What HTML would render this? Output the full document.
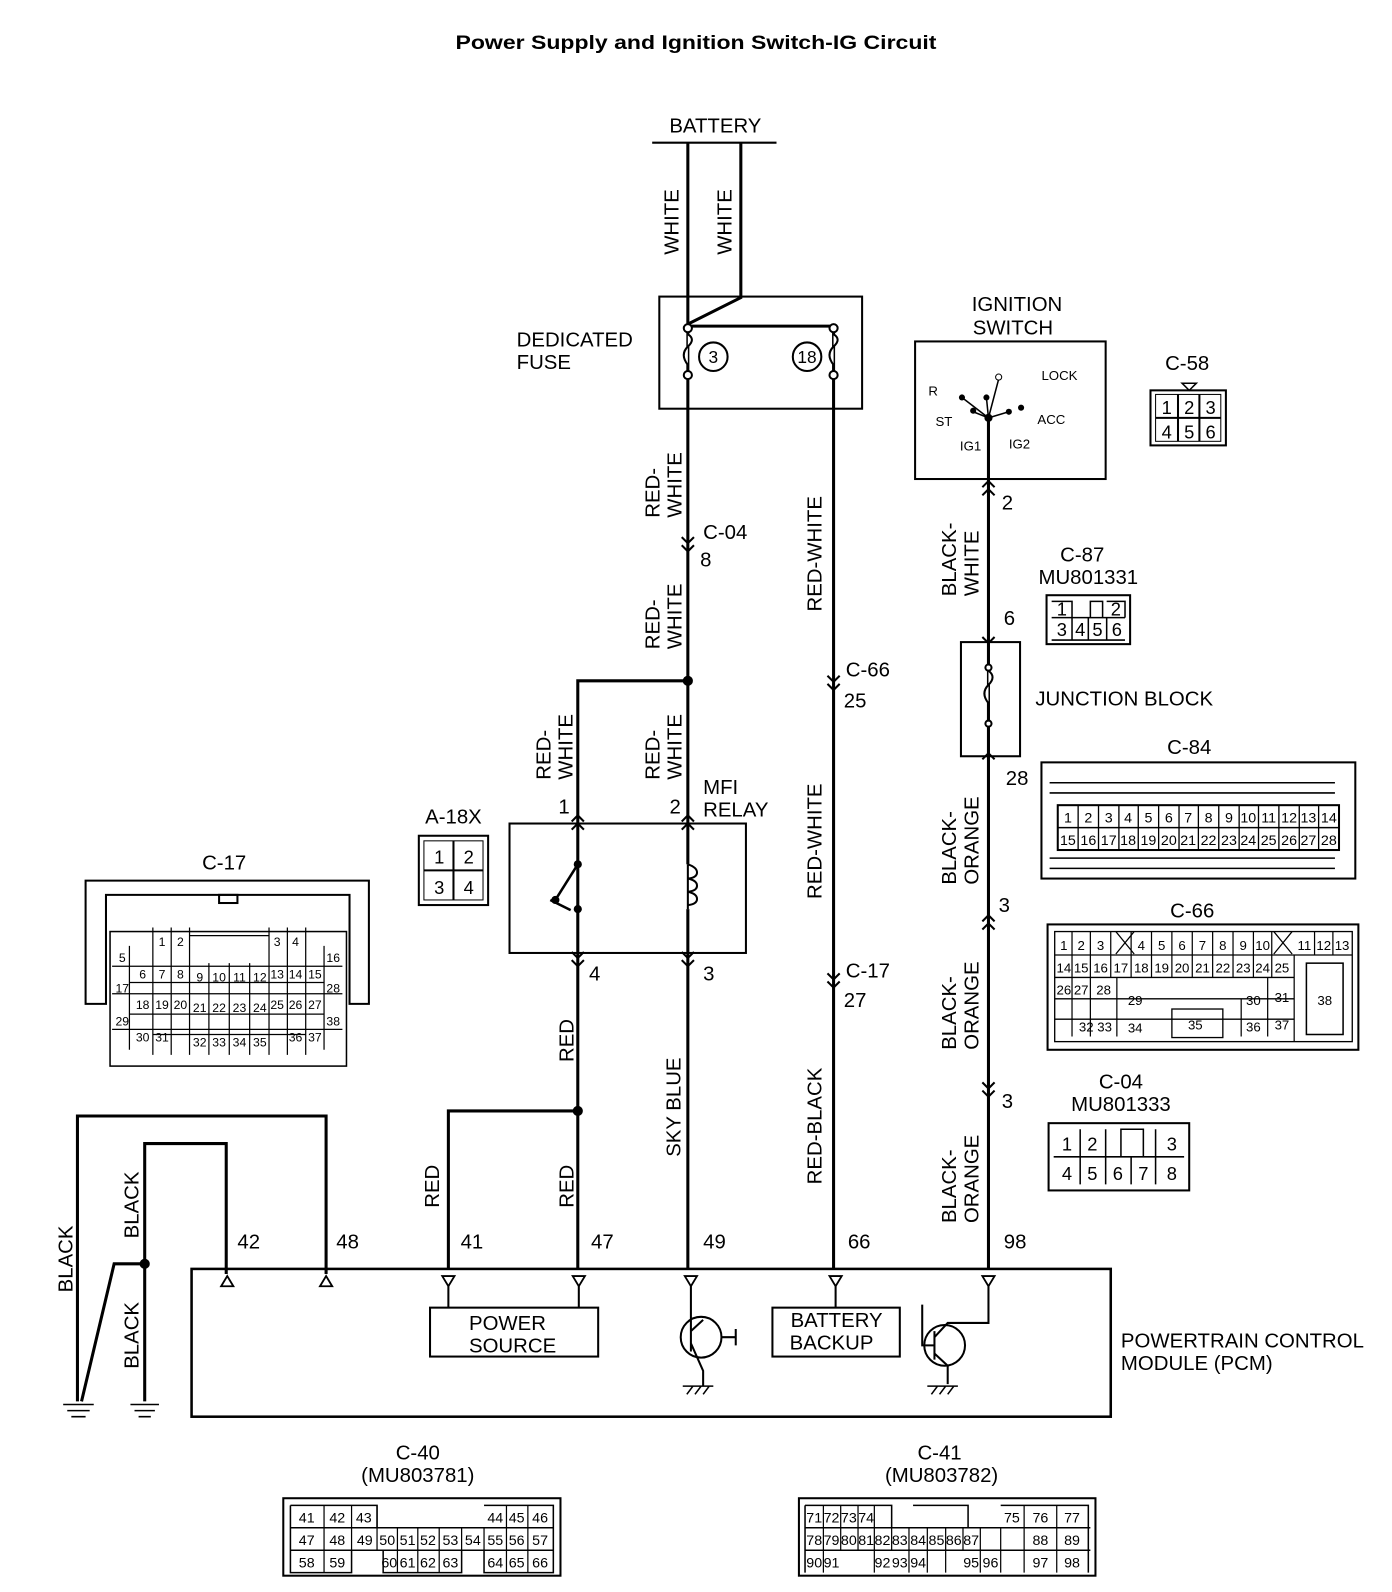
<!DOCTYPE html>
<html><head><meta charset="utf-8"><style>
html,body{margin:0;padding:0;background:#fff}
svg{display:block}
text{font-family:"Liberation Sans",sans-serif;fill:#000}
</style></head><body>
<svg width="1392" height="1592" viewBox="0 0 1366 1562" preserveAspectRatio="none" xmlns="http://www.w3.org/2000/svg">
<rect width="1366" height="1562" fill="#fff"/>
<text x="447" y="48" font-size="19" font-weight="bold" textLength="472" lengthAdjust="spacingAndGlyphs">Power Supply and Ignition Switch-IG Circuit</text>

<g stroke="#000" fill="none" stroke-width="3">
<line x1="640" y1="140" x2="762" y2="140" stroke-width="2"/>
<line x1="675" y1="140" x2="675" y2="1245"/>
<path d="M727 140 V292 L675 318"/>
<line x1="675" y1="320" x2="818" y2="320"/>
<line x1="818" y1="320" x2="818" y2="1245"/>
<rect x="647" y="291" width="199" height="110" stroke-width="2"/>
<path d="M675 668 H567 V1245"/>
<path d="M567 1090 H440 V1245"/>
<rect x="500" y="808" width="232" height="127" stroke-width="2"/>
<rect x="898" y="335" width="187" height="135" stroke-width="2"/>
<line x1="970" y1="410" x2="970" y2="1245"/>
<rect x="943" y="630" width="58" height="112" stroke-width="2"/>
<rect x="188" y="1245" width="902" height="145" stroke-width="2.5"/>
<path d="M76 1375 V1095 H320 V1250"/>
<path d="M142 1375 V1122 H222 V1250"/>
<path d="M142 1240 H112 L80 1375"/>
<rect x="422" y="1283" width="165" height="48" stroke-width="2"/>
<rect x="758" y="1283" width="125" height="48" stroke-width="2"/>
<line x1="440" y1="1262" x2="440" y2="1283" stroke-width="2"/>
<line x1="568" y1="1262" x2="568" y2="1283" stroke-width="2"/>
<line x1="820" y1="1262" x2="820" y2="1283" stroke-width="2"/>
<circle cx="688" cy="1312" r="20" stroke-width="2"/>
<path d="M678 1298 V1326 M678 1306 L678 1262 M678 1318 L690 1345 V1360 M708 1312 H722 M722 1304 V1320 M678 1306 L690 1295" stroke-width="2"/>
<circle cx="927" cy="1320" r="20" stroke-width="2"/>
<path d="M917 1306 V1334 M917 1312 L930 1298 H970 V1262 M917 1328 L930 1340 V1358 M917 1320 H905 V1280" stroke-width="2"/>
</g>
<g stroke="#000" stroke-width="1.5">
<path d="M670 1360 H700 M674 1368 L680 1360 M682 1368 L688 1360 M690 1368 L696 1360"/>
<path d="M910 1360 H940 M914 1368 L920 1360 M922 1368 L928 1360 M930 1368 L936 1360"/>
<path d="M62 1378 H92 M66 1384 H88 M70 1390 H84 M128 1378 H156 M132 1384 H152 M136 1390 H148"/>
</g>
<g fill="#000">
<circle cx="675" cy="668" r="5"/><circle cx="567" cy="1090" r="5"/><circle cx="142" cy="1240" r="5"/>
<circle cx="970" cy="410" r="4"/>
</g>
<g stroke="#000" fill="#fff" stroke-width="2">
<circle cx="675" cy="322" r="4"/><circle cx="818" cy="322" r="4"/>
<circle cx="675" cy="368" r="4"/><circle cx="818" cy="368" r="4"/>
<circle cx="700" cy="350" r="14"/><circle cx="792" cy="350" r="14"/>
<path d="M675 328 q8 5 0 12 q-8 8 0 18" fill="#fff"/>
<path d="M818 328 q8 5 0 12 q-8 8 0 18" fill="#fff"/>
<path d="M970 658 q8 6 0 14 q-8 8 0 18" fill="#fff"/>
<circle cx="970" cy="655" r="3"/><circle cx="970" cy="710" r="3"/>
</g>
<text x="700" y="356" font-size="17" text-anchor="middle">3</text>
<text x="792" y="356" font-size="17" text-anchor="middle">18</text>
<g stroke="#000" stroke-width="2.5" fill="none">
<line x1="567" y1="848" x2="545" y2="883"/>
<line x1="540" y1="883" x2="560" y2="893"/>
</g>
<rect x="672" y="848" width="12" height="44" fill="#fff"/>
<g stroke="#000" stroke-width="2" fill="none">
<path d="M675 848 q9 3 9 8 q0 5 -9 6 q9 2 9 7 q0 5 -9 6 q9 2 9 7 q0 5 -9 6 M675 848 V892"/>
</g>
<g fill="#000"><circle cx="567" cy="848" r="4"/><circle cx="545" cy="883" r="4"/><circle cx="567" cy="892" r="4"/></g>
<g stroke="#000" stroke-width="1.5">
<line x1="970" y1="410" x2="944" y2="390"/><line x1="970" y1="410" x2="955" y2="404"/>
<line x1="970" y1="410" x2="980" y2="372"/><line x1="970" y1="410" x2="990" y2="404"/>
<line x1="970" y1="410" x2="968" y2="390"/>
</g>
<g fill="#000"><circle cx="944" cy="390" r="3"/><circle cx="955" cy="403" r="3"/><circle cx="968" cy="390" r="3"/><circle cx="990" cy="404" r="3"/><circle cx="1002" cy="400" r="3"/></g>
<circle cx="980" cy="370" r="3" fill="#fff" stroke="#000"/>
<g font-size="13">
<text x="911" y="388">R</text><text x="918" y="418">ST</text><text x="942" y="442">IG1</text><text x="990" y="440">IG2</text>
<text x="1022" y="373">LOCK</text><text x="1018" y="416">ACC</text>
</g>
<g stroke="#000" stroke-width="2" fill="none">
<path d="M669 527 l6 6 l6 -6 M669 535 l6 6 l6 -6"/>
<path d="M812 663 l6 6 l6 -6 M812 671 l6 6 l6 -6"/>
<path d="M812 955 l6 6 l6 -6 M812 963 l6 6 l6 -6"/>
<path d="M964 478 l6 -6 l6 6 M964 486 l6 -6 l6 6"/>
<path d="M964 625 l6 6 l6 -6"/>
<path d="M964 745 l6 -6 l6 6"/>
<path d="M964 904 l6 -6 l6 6 M964 912 l6 -6 l6 6"/>
<path d="M964 1062 l6 6 l6 -6 M964 1070 l6 6 l6 -6"/>
<path d="M561 806 l6 -6 l6 6 M561 814 l6 -6 l6 6"/>
<path d="M669 806 l6 -6 l6 6 M669 814 l6 -6 l6 6"/>
<path d="M561 934 l6 6 l6 -6 M561 942 l6 6 l6 -6"/>
<path d="M669 934 l6 6 l6 -6 M669 942 l6 6 l6 -6"/>
</g>
<g stroke="#000" stroke-width="1.8" fill="#fff">
<path d="M217 1262 l6 -10 l6 10 z"/><path d="M314 1262 l6 -10 l6 10 z"/>
<path d="M434 1252 l6 10 l6 -10 z"/><path d="M562 1252 l6 10 l6 -10 z"/><path d="M672 1252 l6 10 l6 -10 z"/>
<path d="M814 1252 l6 10 l6 -10 z"/><path d="M964 1252 l6 10 l6 -10 z"/>
</g>

<g font-size="20">
<text x="702" y="130" text-anchor="middle">BATTERY</text>
<text x="507" y="340">DEDICATED</text><text x="507" y="362">FUSE</text>
<text x="998" y="305" text-anchor="middle">IGNITION</text><text x="994" y="328" text-anchor="middle">SWITCH</text>
<text x="1165" y="363" text-anchor="middle">C-58</text>
<text x="690" y="529">C-04</text><text x="687" y="556">8</text>
<text x="830" y="664">C-66</text><text x="828" y="694">25</text>
<text x="830" y="959">C-17</text><text x="828" y="988">27</text>
<text x="983" y="500">2</text>
<text x="1062" y="551" text-anchor="middle">C-87</text><text x="1068" y="573" text-anchor="middle">MU801331</text>
<text x="985" y="613">6</text>
<text x="1016" y="692">JUNCTION  BLOCK</text>
<text x="1167" y="740" text-anchor="middle">C-84</text>
<text x="987" y="770">28</text>
<text x="980" y="895">3</text>
<text x="1170" y="900" text-anchor="middle">C-66</text>
<text x="983" y="1087">3</text>
<text x="1100" y="1068" text-anchor="middle">C-04</text><text x="1100" y="1090" text-anchor="middle">MU801333</text>
<text x="548" y="798">1</text><text x="657" y="798">2</text>
<text x="690" y="779">MFI</text><text x="690" y="801">RELAY</text>
<text x="445" y="808" text-anchor="middle">A-18X</text>
<text x="220" y="853" text-anchor="middle">C-17</text>
<text x="578" y="962">4</text><text x="690" y="962">3</text>
<text x="233" y="1225">42</text><text x="330" y="1225">48</text><text x="452" y="1225">41</text>
<text x="580" y="1225">47</text><text x="690" y="1225">49</text><text x="832" y="1225">66</text><text x="985" y="1225">98</text>
<text x="498" y="1305" text-anchor="middle">POWER</text><text x="503" y="1327" text-anchor="middle">SOURCE</text>
<text x="821" y="1302" text-anchor="middle">BATTERY</text><text x="816" y="1324" text-anchor="middle">BACKUP</text>
<text x="1100" y="1322">POWERTRAIN CONTROL</text><text x="1100" y="1344">MODULE (PCM)</text>
<text x="410" y="1432" text-anchor="middle">C-40</text><text x="410" y="1454" text-anchor="middle">(MU803781)</text>
<text x="922" y="1432" text-anchor="middle">C-41</text><text x="924" y="1454" text-anchor="middle">(MU803782)</text>
</g>
<g font-size="20">
<text transform="translate(666,250) rotate(-90)">WHITE</text>
<text transform="translate(718,250) rotate(-90)">WHITE</text>
<text transform="translate(647,508) rotate(-90)">RED-</text><text transform="translate(669,508) rotate(-90)">WHITE</text>
<text transform="translate(647,637) rotate(-90)">RED-</text><text transform="translate(669,637) rotate(-90)">WHITE</text>
<text transform="translate(540,765) rotate(-90)">RED-</text><text transform="translate(562,765) rotate(-90)">WHITE</text>
<text transform="translate(647,765) rotate(-90)">RED-</text><text transform="translate(669,765) rotate(-90)">WHITE</text>
<text transform="translate(806,600) rotate(-90)">RED-WHITE</text>
<text transform="translate(806,882) rotate(-90)">RED-WHITE</text>
<text transform="translate(806,1162) rotate(-90)">RED-BLACK</text>
<text transform="translate(938,585) rotate(-90)">BLACK-</text><text transform="translate(960,585) rotate(-90)">WHITE</text>
<text transform="translate(938,868) rotate(-90)">BLACK-</text><text transform="translate(960,868) rotate(-90)">ORANGE</text>
<text transform="translate(938,1030) rotate(-90)">BLACK-</text><text transform="translate(960,1030) rotate(-90)">ORANGE</text>
<text transform="translate(938,1200) rotate(-90)">BLACK-</text><text transform="translate(960,1200) rotate(-90)">ORANGE</text>
<text transform="translate(563,1042) rotate(-90)">RED</text>
<text transform="translate(668,1135) rotate(-90)">SKY BLUE</text>
<text transform="translate(431,1185) rotate(-90)">RED</text>
<text transform="translate(563,1185) rotate(-90)">RED</text>
<text transform="translate(71,1268) rotate(-90)">BLACK</text>
<text transform="translate(136,1215) rotate(-90)">BLACK</text>
<text transform="translate(136,1343) rotate(-90)">BLACK</text>
</g>

<g stroke="#000" fill="none" stroke-width="2">
<rect x="411" y="820" width="68" height="68"/><rect x="416" y="825" width="58" height="58" stroke-width="1"/>
<line x1="416" y1="854" x2="474" y2="854"/><line x1="445" y1="825" x2="445" y2="883"/>
<rect x="1129" y="383" width="74" height="54"/><rect x="1134" y="387" width="64" height="46" stroke-width="1"/>
<line x1="1134" y1="410" x2="1198" y2="410"/><line x1="1156" y1="387" x2="1156" y2="433"/><line x1="1177" y1="387" x2="1177" y2="433"/>
<path d="M1160 376 h14 l-7 7 z" stroke-width="1.5"/>
<rect x="1027" y="584" width="82" height="48"/>
<path d="M1032 590 h20 v16 M1032 606 H1104 M1032 628 H1104 M1052 606 V628 M1068 606 V628 M1086 606 V628 M1070 606 V590 h12 v16 M1086 590 h18 v16" stroke-width="1.5"/>
<rect x="1029" y="1102" width="138" height="66"/>
<path d="M1034 1135 H1162 M1060 1108 V1162 M1085 1108 V1135 M1085 1135 V1162 M1110 1135 V1162 M1134 1108 V1162 M1100 1135 V1108 H1122 V1135" stroke-width="1.5"/>
</g>
<g font-size="18" text-anchor="middle">
<text x="431" y="847">1</text><text x="460" y="847">2</text><text x="431" y="877">3</text><text x="460" y="877">4</text>
<text x="1145" y="406">1</text><text x="1167" y="406">2</text><text x="1188" y="406">3</text>
<text x="1145" y="430">4</text><text x="1167" y="430">5</text><text x="1188" y="430">6</text>
<text x="1042" y="604">1</text><text x="1095" y="604">2</text>
<text x="1042" y="624">3</text><text x="1060" y="624">4</text><text x="1077" y="624">5</text><text x="1096" y="624">6</text>
<text x="1047" y="1129">1</text><text x="1072" y="1129">2</text><text x="1150" y="1129">3</text>
<text x="1047" y="1158">4</text><text x="1072" y="1158">5</text><text x="1097" y="1158">6</text><text x="1122" y="1158">7</text><text x="1150" y="1158">8</text>
</g>

<g stroke="#000" fill="none" stroke-width="2">
<rect x="1022" y="748" width="308" height="114"/>
<path d="M1030 768 H1310 M1030 778 H1310 M1030 842 H1310 M1030 852 H1310" stroke-width="1.5"/>
<rect x="1038" y="790" width="276" height="44"/>
<line x1="1038" y1="812" x2="1314" y2="812" stroke-width="1.5"/>
</g>
<g stroke="#000" stroke-width="1.3">
<path d="M1058 790V834M1078 790V834M1098 790V834M1117 790V834M1137 790V834M1157 790V834M1176 790V834M1196 790V834M1216 790V834M1235 790V834M1255 790V834M1275 790V834M1294 790V834"/>
</g>
<g font-size="14" text-anchor="middle">
<text x="1048" y="807">1</text><text x="1068" y="807">2</text><text x="1088" y="807">3</text><text x="1107" y="807">4</text><text x="1127" y="807">5</text><text x="1147" y="807">6</text><text x="1166" y="807">7</text><text x="1186" y="807">8</text><text x="1206" y="807">9</text><text x="1225" y="807">10</text><text x="1245" y="807">11</text><text x="1265" y="807">12</text><text x="1284" y="807">13</text><text x="1304" y="807">14</text>
<text x="1048" y="829">15</text><text x="1068" y="829">16</text><text x="1088" y="829">17</text><text x="1107" y="829">18</text><text x="1127" y="829">19</text><text x="1147" y="829">20</text><text x="1166" y="829">21</text><text x="1186" y="829">22</text><text x="1206" y="829">23</text><text x="1225" y="829">24</text><text x="1245" y="829">25</text><text x="1265" y="829">26</text><text x="1284" y="829">27</text><text x="1304" y="829">28</text>
</g>

<g stroke="#000" fill="none" stroke-width="2">
<rect x="1028" y="907" width="305" height="123"/>
<rect x="1035" y="914" width="292" height="108" stroke-width="1.3"/>
<path d="M1035 937H1327M1035 959H1270M1035 980H1270M1035 1000H1270" stroke-width="1.3"/>
<path d="M1270 937V1022M1052 914V1017M1070 914V1017M1090 914V959M1110 914V959M1130 914V959M1150 914V959M1170 914V959M1190 914V959M1210 914V959M1230 914V959M1248 914V959M1290 914V937M1308 914V937M1096 959V1017M1218 980V1017M1244 959V1017" stroke-width="1.2"/>
<path d="M1095 914L1113 936M1113 914L1095 936M1250 914L1268 936M1268 914L1250 936" stroke-width="1.2"/>
<rect x="1282" y="945" width="36" height="70" stroke-width="1.5"/>
<rect x="1150" y="990" width="50" height="28" stroke-width="1.3"/>
</g>
<g font-size="13" text-anchor="middle">
<text x="1044" y="932">1</text><text x="1061" y="932">2</text><text x="1080" y="932">3</text><text x="1120" y="932">4</text><text x="1140" y="932">5</text><text x="1160" y="932">6</text><text x="1180" y="932">7</text><text x="1200" y="932">8</text><text x="1220" y="932">9</text><text x="1239" y="932">10</text><text x="1280" y="932">11</text><text x="1299" y="932">12</text><text x="1317" y="932">13</text>
<text x="1044" y="954">14</text><text x="1061" y="954">15</text><text x="1080" y="954">16</text><text x="1100" y="954">17</text><text x="1120" y="954">18</text><text x="1140" y="954">19</text><text x="1160" y="954">20</text><text x="1180" y="954">21</text><text x="1200" y="954">22</text><text x="1220" y="954">23</text><text x="1239" y="954">24</text><text x="1258" y="954">25</text>
<text x="1044" y="976">26</text><text x="1061" y="976">27</text><text x="1083" y="976">28</text><text x="1114" y="986">29</text><text x="1230" y="986">30</text><text x="1258" y="983">31</text><text x="1300" y="986">38</text>
<text x="1066" y="1012">32</text><text x="1084" y="1012">33</text><text x="1114" y="1013">34</text><text x="1173" y="1010">35</text><text x="1230" y="1012">36</text><text x="1258" y="1010">37</text>
</g>

<g stroke="#000" fill="none" stroke-width="2">
<path d="M84 985 V864 H362 V985 H343 V878 H104 V985 Z"/>
<rect x="215" y="878" width="18" height="8"/>
<rect x="108" y="914" width="232" height="132" stroke-width="1.5"/>
</g>
<g stroke="#000" stroke-width="1.2" fill="none">
<path d="M150 910V1035M168 910V1035M186 910V1035M264 910V1035M282 910V1035M300 910V1035M127 928V1030M318 928V1030M205 945V1035M225 945V1035M245 945V1035"/>
<path d="M110 948H336M127 964H318M110 975H336M127 995H318M110 1010H336M150 1015H300"/>
<path d="M186 918H264"/>
</g>
<g font-size="12" text-anchor="middle">
<text x="159" y="928">1</text><text x="177" y="928">2</text><text x="272" y="928">3</text><text x="290" y="928">4</text>
<text x="120" y="944">5</text><text x="327" y="944">16</text>
<text x="140" y="960">6</text><text x="159" y="960">7</text><text x="177" y="960">8</text><text x="196" y="963">9</text><text x="215" y="963">10</text><text x="235" y="963">11</text><text x="255" y="963">12</text><text x="272" y="960">13</text><text x="290" y="960">14</text><text x="309" y="960">15</text>
<text x="120" y="974">17</text><text x="327" y="974">28</text>
<text x="140" y="990">18</text><text x="159" y="990">19</text><text x="177" y="990">20</text><text x="196" y="993">21</text><text x="215" y="993">22</text><text x="235" y="993">23</text><text x="255" y="993">24</text><text x="272" y="990">25</text><text x="290" y="990">26</text><text x="309" y="990">27</text>
<text x="120" y="1006">29</text><text x="327" y="1006">38</text>
<text x="140" y="1022">30</text><text x="159" y="1022">31</text><text x="196" y="1027">32</text><text x="215" y="1027">33</text><text x="235" y="1027">34</text><text x="255" y="1027">35</text><text x="290" y="1022">36</text><text x="309" y="1022">37</text>
</g>

<g stroke="#000" fill="none" stroke-width="2">
<rect x="278" y="1470" width="272" height="76"/>
<path d="M285 1499H543M285 1521H543" stroke-width="1.5"/>
<path d="M285 1477H370V1499M475 1477H543V1499M285 1477V1543H345V1521M370 1521H475M376 1521V1543H453V1521M475 1521V1543H543V1477" stroke-width="1.5"/>
<path d="M318 1477V1543M345 1477V1521M370 1477V1521M390 1499V1543M410 1499V1543M431 1499V1543M453 1499V1521M475 1499V1521M497 1477V1543M518 1477V1543" stroke-width="1.2"/>
</g>
<g font-size="14" text-anchor="middle">
<text x="301" y="1494">41</text><text x="331" y="1494">42</text><text x="357" y="1494">43</text><text x="486" y="1494">44</text><text x="507" y="1494">45</text><text x="530" y="1494">46</text>
<text x="301" y="1516">47</text><text x="331" y="1516">48</text><text x="358" y="1516">49</text><text x="380" y="1516">50</text><text x="400" y="1516">51</text><text x="420" y="1516">52</text><text x="442" y="1516">53</text><text x="464" y="1516">54</text><text x="486" y="1516">55</text><text x="507" y="1516">56</text><text x="530" y="1516">57</text>
<text x="301" y="1538">58</text><text x="331" y="1538">59</text><text x="382" y="1538">60</text><text x="400" y="1538">61</text><text x="420" y="1538">62</text><text x="442" y="1538">63</text><text x="486" y="1538">64</text><text x="507" y="1538">65</text><text x="530" y="1538">66</text>
</g>

<g stroke="#000" fill="none" stroke-width="2">
<rect x="784" y="1470" width="291" height="76"/>
<path d="M790 1499H1070M790 1521H1070" stroke-width="1.5"/>
<path d="M790 1477V1543M790 1477H875V1499M982 1477H1068V1543M896 1477H950V1499" stroke-width="1.5"/>
<path d="M808 1477V1543M825 1477V1521M842 1477V1521M858 1477V1543M875 1499V1521M892 1499V1543M910 1499V1543M928 1499V1543M945 1499V1521M962 1499V1543M982 1499V1543M1005 1477V1543M1037 1477V1543" stroke-width="1.2"/>
</g>
<g font-size="14" text-anchor="middle">
<text x="799" y="1494">71</text><text x="816" y="1494">72</text><text x="833" y="1494">73</text><text x="850" y="1494">74</text><text x="993" y="1494">75</text><text x="1021" y="1494">76</text><text x="1052" y="1494">77</text>
<text x="799" y="1516">78</text><text x="816" y="1516">79</text><text x="833" y="1516">80</text><text x="850" y="1516">81</text><text x="866" y="1516">82</text><text x="883" y="1516">83</text><text x="901" y="1516">84</text><text x="919" y="1516">85</text><text x="936" y="1516">86</text><text x="953" y="1516">87</text><text x="1021" y="1516">88</text><text x="1052" y="1516">89</text>
<text x="799" y="1538">90</text><text x="816" y="1538">91</text><text x="866" y="1538">92</text><text x="883" y="1538">93</text><text x="901" y="1538">94</text><text x="953" y="1538">95</text><text x="972" y="1538">96</text><text x="1021" y="1538">97</text><text x="1052" y="1538">98</text>
</g>
</svg>
</body></html>
